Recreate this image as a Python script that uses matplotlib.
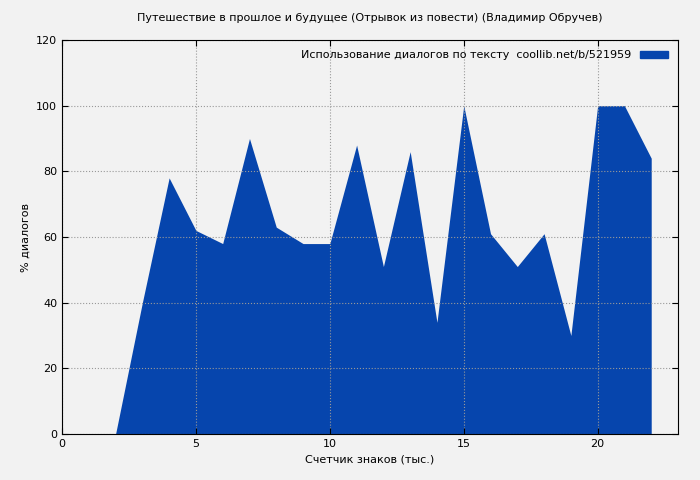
import matplotlib.pyplot as plt
from matplotlib.patches import Patch

chars_k = list(range(0, 23))
dialog_pct = [0, 0, 0, 40, 78, 62, 58, 90, 63, 58, 58, 88, 51, 86, 34, 100, 61, 51, 61, 30, 100, 100, 84]

fig = plt.figure(figsize=(7, 4.8), dpi=100, facecolor='#f2f2f2')
ax = fig.add_axes([62 / 700, 46 / 480, 616 / 700, 394 / 480])
ax.set_facecolor('#f2f2f2')

ax.fill_between(chars_k, dialog_pct, color='#0645ad', lw=0)
ax.set_xlim(0, 23)
ax.set_ylim(0, 120)
ax.set_xticks([0, 5, 10, 15, 20])
ax.set_yticks(range(0, 121, 20))
ax.grid(True, color='#999999', linestyle=':', linewidth=0.8)
ax.tick_params(labelsize=8, direction='in', length=4, top=True, right=True)
ax.tick_params(labeltop=False, labelright=False)

ax.set_title('Путешествие в прошлое и будущее (Отрывок из повести) (Владимир Обручев)', fontsize=8, pad=14)
ax.set_xlabel('Счетчик знаков (тыс.)', fontsize=8)
ax.set_ylabel('% диалогов', fontsize=8)

ax.legend(handles=[Patch(color='#0645ad', label='Использование диалогов по тексту  coollib.net/b/521959')],
          loc='upper right', fontsize=8, frameon=False, handlelength=2.5, handleheight=0.6,
          markerfirst=False)

fig.savefig('out.png', dpi=100, facecolor=fig.get_facecolor())
